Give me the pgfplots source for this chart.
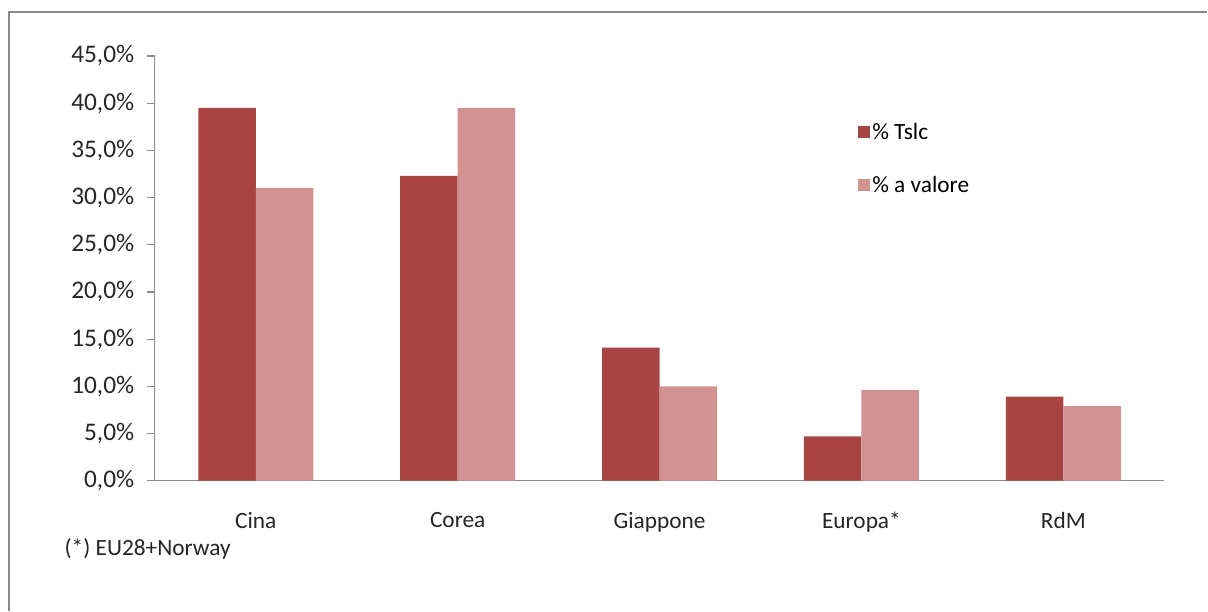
\documentclass[border=0pt]{standalone}
\usepackage{pgfplots}
\pgfplotsset{compat=1.18}
\usepackage{fontspec}
\setmainfont{Carlito}
\definecolor{darkred}{HTML}{A84442}
\definecolor{lightred}{HTML}{D39292}
\definecolor{axgrey}{HTML}{8C8C8C}
\definecolor{bordergrey}{HTML}{8A8A8A}
\begin{document}
\begin{tikzpicture}
\fill[white] (0pt,0pt) rectangle (906pt,458.25pt);
\draw[bordergrey, line width=1.2pt] (6.75pt,0pt) -- (6.75pt,449.25pt) -- (906pt,449.25pt);
\begin{axis}[
  at={(116.25pt,97.5pt)}, anchor=south west,
  scale only axis,
  width=757.5pt, height=318.75pt,
  xmin=0, xmax=5, ymin=0, ymax=45,
  axis x line*=bottom, axis y line*=left,
  axis line style={axgrey, line width=0.9pt},
  xtick={0.5,1.5,2.5,3.5,4.5},
  xticklabels={Cina,Corea,Giappone,Europa*,RdM},
  extra x ticks={0,1,2,3,4,5},
  extra x tick labels={},
  extra x tick style={major tick length=9pt, tick style={axgrey, line width=0.9pt}, tick align=outside},
  x tick style={draw=none},
  ytick={0,5,...,45},
  yticklabel={\pgfmathprintnumber[fixed,fixed zerofill,precision=1,use comma]{\tick}\%},
  y tick style={axgrey, line width=0.9pt},
  tick align=outside, major tick length=6pt,
  /pgf/number format/assume math mode=true,
  tick label style={font=\fontsize{17.5}{19}\selectfont, text=black!85},
  yticklabel style={xshift=-6pt, font=\fontsize{19}{21}\selectfont},
  xticklabel style={yshift=-14pt},
  ybar=0pt, bar width=0.285,
  legend style={at={(0.692,0.855)}, anchor=north west, draw=none, fill=none,
    font=\fontsize{17.5}{19}\selectfont, row sep=22pt,
    /tikz/every even column/.append style={column sep=4pt}},
  legend cell align=left,
  legend image code/.code={\fill[#1] (0pt,-4.5pt) rectangle (9pt,4.5pt);},
]
\addplot[fill=darkred, draw=none] coordinates {(0.5,39.5) (1.5,32.3) (2.5,14.1) (3.5,4.7) (4.5,8.9)};
\addplot[fill=lightred, draw=none] coordinates {(0.5,31.0) (1.5,39.5) (2.5,10.0) (3.5,9.6) (4.5,7.9)};
\legend{\% Tslc, \% a valore}
\end{axis}
\node[anchor=west, font=\fontsize{17.5}{19}\selectfont, text=black!85] at (45pt,46pt) {(*) EU28+Norway};
\end{tikzpicture}
\end{document}
